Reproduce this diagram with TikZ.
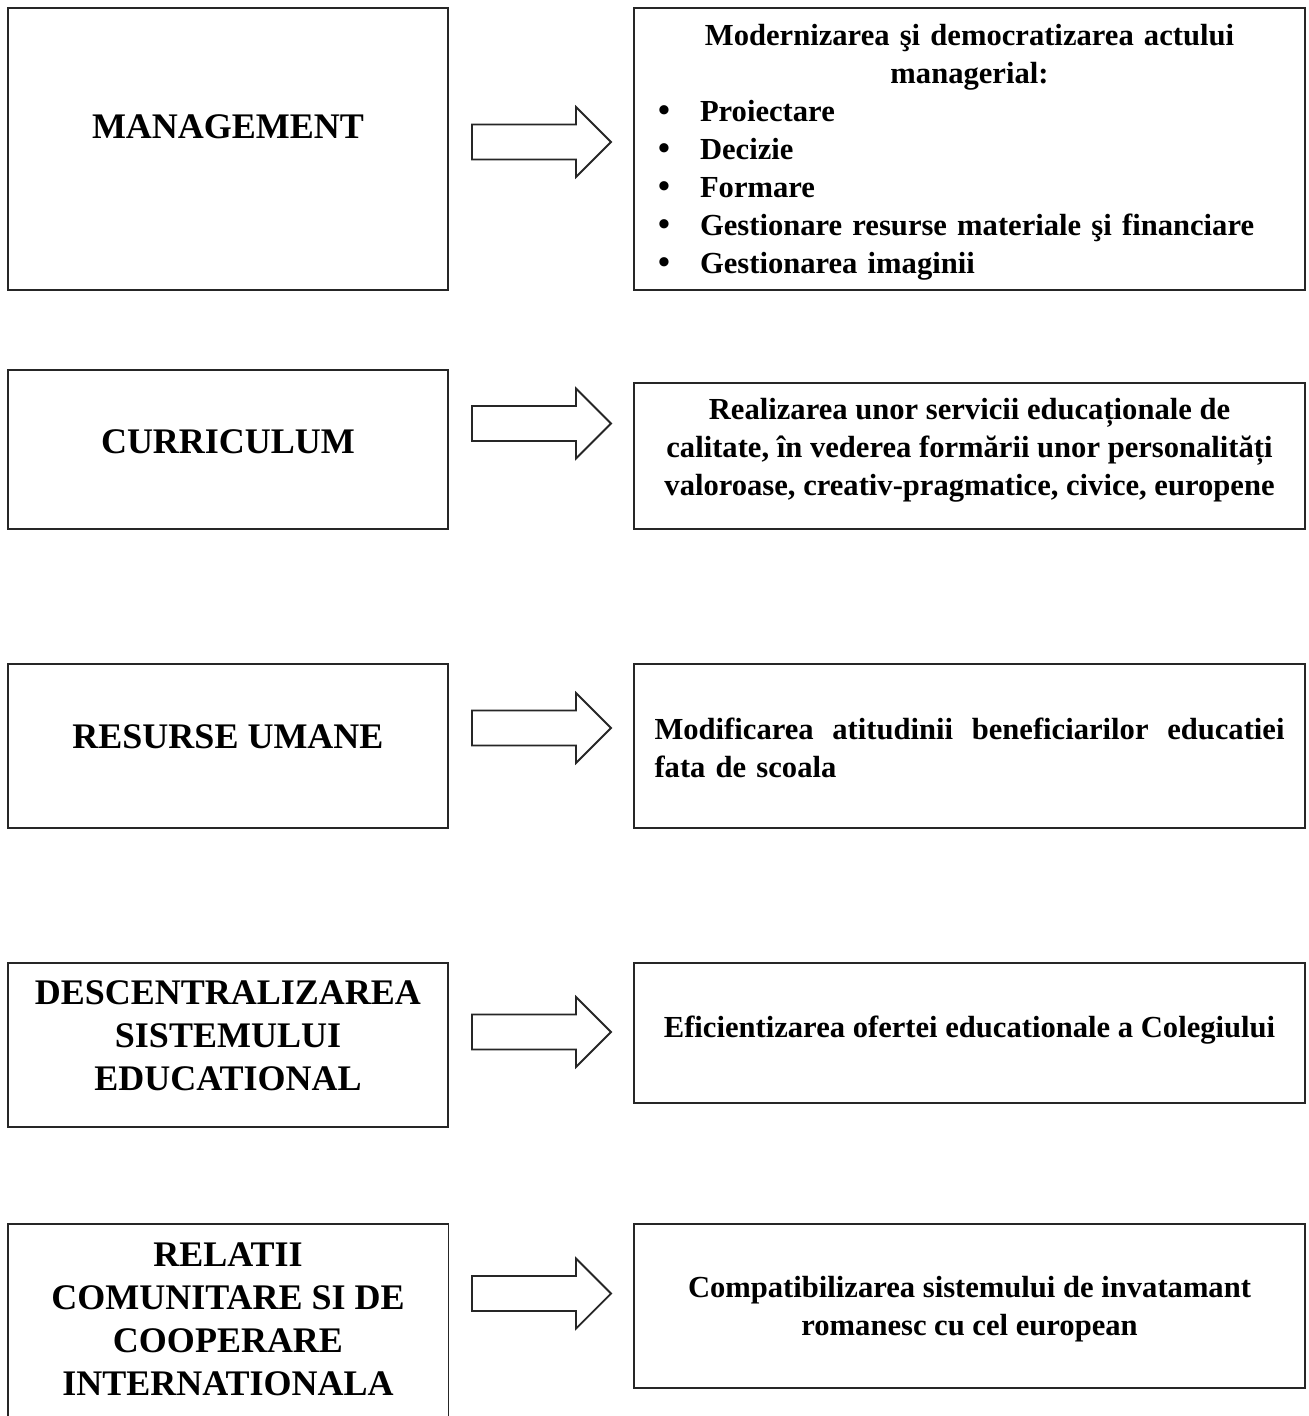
\documentclass[tikz,border=0pt]{standalone}
\usepackage{fontspec}
\setmainfont{Liberation Serif}
\newcommand{\mybul}{\makebox[22.5pt][l]{\hspace{1.5pt}{\fontsize{17pt}{19pt}\selectfont\textbullet}}}
\begin{document}
\begin{tikzpicture}[x=0.5pt,y=-0.5pt,
  box/.style={draw=black!85, line width=0.9pt, inner sep=0pt},
  lbox/.style={box, minimum width=220pt},
  rbox/.style={box, minimum width=335.5pt},
  ltext/.style={font=\fontsize{18pt}{21.5pt}\selectfont\bfseries, align=center, inner sep=0pt},
  rtext/.style={font=\fontsize{15.3pt}{19pt}\selectfont\bfseries, align=center, inner sep=0pt},
  arrowline/.style={draw=black!85, line width=0.9pt, line join=miter},
  blockarrow/.pic={\draw[arrowline] (0,-17.5) -- (104,-17.5) -- (104,-35) -- (139,0) -- (104,35) -- (104,17.5) -- (0,17.5) -- cycle;}
]
\useasboundingbox (0,0) rectangle (1309,1416);

% left boxes
\node[lbox, minimum height=141pt] (l1) at (228,149) {};
\node[lbox, minimum height=79.5pt] (l2) at (228,449.5) {};
\node[lbox, minimum height=82pt] (l3) at (228,746) {};
\node[lbox, minimum height=82pt] (l4) at (228,1045) {};
\node[inner sep=0pt, minimum width=220pt, minimum height=96pt] (l5) at (228,1320) {};
\draw[box] (l5.south west) -- (l5.north west) -- (l5.north east) -- (l5.south east);

\node[ltext, yshift=11pt] (l1t) at (l1.center) {MANAGEMENT};
\node[ltext, yshift=3.75pt] (l2t) at (l2.center) {CURRICULUM};
\node[ltext, yshift=4.5pt] (l3t) at (l3.center) {RESURSE UMANE};
\node[ltext, yshift=4.5pt] (l4t) at (l4.center) {DESCENTRALIZAREA\\SISTEMULUI\\EDUCATIONAL};
\node[ltext, yshift=0.5pt] (l5t) at (l5.center) {RELATII\\COMUNITARE SI DE\\COOPERARE\\INTERNATIONALA};

% right boxes
\node[rbox, minimum height=141pt] (r1) at (969.5,149) {};
\node[rbox, minimum height=73pt] (r2) at (969.5,456) {};
\node[rbox, minimum height=82pt] (r3) at (969.5,746) {};
\node[rbox, minimum height=70pt] (r4) at (969.5,1033) {};
\node[rbox, minimum height=82pt] (r5) at (969.5,1306) {};

\node[rtext, text width=314.5pt, align=left, yshift=-1.5pt] (r1t) at (r1.center)
  {\makebox[\linewidth][c]{Modernizarea şi democratizarea actului}\\
   \makebox[\linewidth][c]{managerial:}\\
   \mybul Proiectare\\
   \mybul Decizie\\
   \mybul Formare\\
   \mybul Gestionare resurse materiale şi financiare\\
   \mybul Gestionarea imaginii};
\node[rtext, yshift=3pt] (r2t) at (r2.center)
  {Realizarea unor servicii educaționale de\\calitate, în vederea formării unor personalități\\valoroase, creativ-pragmatice, civice, europene};
\node[rtext, text width=315pt, align=left, yshift=-1pt] (r3t) at (r3.center)
  {\leavevmode\hbox to \linewidth{Modificarea\hfill atitudinii\hfill beneficiarilor\hfill educatiei}\\fata de scoala};
\node[rtext, yshift=1.5pt] (r4t) at (r4.center) {Eficientizarea ofertei educationale a Colegiului};
\node[rtext, yshift=-1.5pt] (r5t) at (r5.center) {Compatibilizarea sistemului de invatamant\\romanesc cu cel european};

% block arrows
\pic at (472,142) {blockarrow};
\pic at (472,423.5) {blockarrow};
\pic at (472,728) {blockarrow};
\pic at (472,1032) {blockarrow};
\pic at (472,1293.5) {blockarrow};
\end{tikzpicture}
\end{document}
